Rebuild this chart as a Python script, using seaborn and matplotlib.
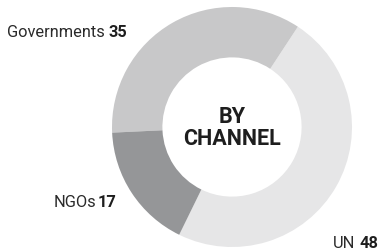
import matplotlib
matplotlib.use("Agg")
import matplotlib.pyplot as plt
import seaborn as sns

categories = ["UN", "Governments", "NGOs"]
values = [48, 35, 17]
colors = ["#e6e6e7", "#c8c8c9", "#959698"]
center_label = "BY\nCHANNEL"

sns.set_theme(style="white")
plt.rcParams["font.family"] = ["Roboto", "DejaVu Sans"]

W, H = 381, 251
fig = plt.figure(figsize=(W / 100, H / 100), dpi=100)
cx, cy, r = 232, 128, 120
ax = fig.add_axes([(cx - r) / W, (H - cy - r) / H, 2 * r / W, 2 * r / H])

ax.pie(values, colors=colors, startangle=243.9, counterclock=True, radius=1,
       wedgeprops=dict(width=0.42, edgecolor="none"))
ax.set_xlim(-1, 1)
ax.set_ylim(-1, 1)
ax.axis("off")

ax.text(0, 0.0, center_label, ha="center", va="center", fontsize=15.5,
        fontweight="bold", color="#1e1e1e", linespacing=0.95)

label_pos = {"Governments": (-1.875, 0.758), "NGOs": (-1.49, -0.66), "UN": (0.842, -1.0)}
gaps = {"Governments": 3, "NGOs": 1.5, "UN": 3}
for cat, val in zip(categories, values):
    x, y = label_pos[cat]
    t = ax.text(x, y, cat, ha="left", va="baseline", fontsize=11.8,
                color="#2a2a2a", clip_on=False)
    ax.annotate(str(val), xy=(1, 0), xycoords=t, xytext=(gaps[cat], 0),
                textcoords="offset points", ha="left", va="bottom",
                fontsize=11.8, fontweight="bold", color="#1e1e1e",
                annotation_clip=False)

fig.savefig("out.png", dpi=100)
